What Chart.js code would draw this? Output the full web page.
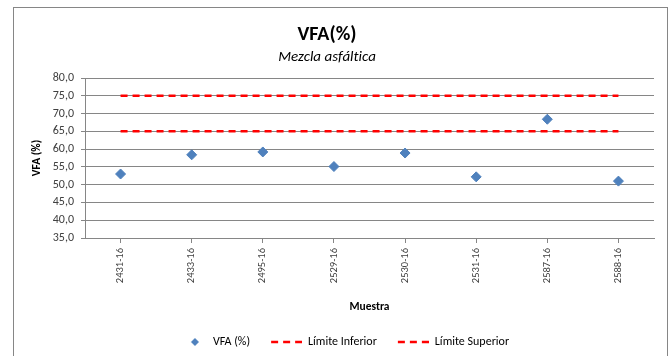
<!DOCTYPE html>
<html>
<head>
<meta charset="utf-8">
<script src="https://cdn.jsdelivr.net/npm/chart.js@4/dist/chart.umd.min.js"></script>
<style>
  html, body { margin: 0; padding: 0; background: #ffffff; }
  #wrap { position: relative; width: 670px; height: 356px; }
</style>
</head>
<body>
<div id="wrap"><canvas id="c" width="670" height="356"></canvas></div>
<script>
// Samples and measured VFA values
const muestras = ['2431-16', '2433-16', '2495-16', '2529-16', '2530-16', '2531-16', '2587-16', '2588-16'];
const vfa = [53.0, 58.4, 59.2, 55.1, 58.9, 52.2, 68.4, 51.0];
// Specification limits
const limiteInferior = [65, 65, 65, 65, 65, 65, 65, 65];
const limiteSuperior = [75, 75, 75, 75, 75, 75, 75, 75];
// Y axis range
const yMin = 35, yMax = 80, yStep = 5;

const FONT = "Carlito, Lato, 'Liberation Sans', sans-serif";
const BLUE = '#4F81BD';
const RED = '#FF0000';
const GRID = '#868686';
const TEXT = '#404040';

// Legend swatches
function diamondSwatch() {
  const c = document.createElement('canvas');
  c.width = 32; c.height = 12;
  const g = c.getContext('2d');
  g.fillStyle = BLUE;
  g.beginPath();
  g.moveTo(20, 2); g.lineTo(24, 6); g.lineTo(20, 10); g.lineTo(16, 6);
  g.closePath(); g.fill();
  return c;
}
function dashSwatch() {
  const c = document.createElement('canvas');
  c.width = 32; c.height = 12;
  const g = c.getContext('2d');
  g.strokeStyle = RED;
  g.lineWidth = 2.5;
  g.setLineDash([7, 5]);
  g.beginPath();
  g.moveTo(1, 6); g.lineTo(33, 6);
  g.stroke();
  return c;
}
const swatches = [diamondSwatch(), dashSwatch(), dashSwatch()];

const frame = {
  id: 'frame',
  beforeDraw(chart) {
    const ctx = chart.ctx;
    ctx.save();
    ctx.fillStyle = '#ffffff';
    ctx.fillRect(0, 0, chart.width, chart.height);
    ctx.strokeStyle = GRID;
    ctx.lineWidth = 1;
    ctx.strokeRect(13.5, 7.5, 654, 400);
    ctx.restore();
  },
  afterLayout(chart) {
    if (chart.legend) {
      chart.legend.left += 15;
      chart.legend.right += 15;
    }
  }
};

new Chart(document.getElementById('c'), {
  type: 'line',
  data: {
    labels: muestras,
    datasets: [
      {
        label: 'VFA (%)',
        data: vfa,
        showLine: false,
        pointStyle: 'rectRot',
        pointRadius: 5,
        pointHoverRadius: 5,
        backgroundColor: BLUE,
        borderColor: BLUE,
        borderWidth: 1,
        order: 0
      },
      {
        label: 'Límite Inferior',
        data: limiteInferior,
        borderColor: RED,
        backgroundColor: RED,
        borderWidth: 2.5,
        borderDash: [7, 5],
        pointRadius: 0,
        fill: false,
        order: 1
      },
      {
        label: 'Límite Superior',
        data: limiteSuperior,
        borderColor: RED,
        backgroundColor: RED,
        borderWidth: 2.5,
        borderDash: [7, 5],
        pointRadius: 0,
        fill: false,
        order: 2
      }
    ]
  },
  options: {
    responsive: false,
    devicePixelRatio: 1,
    animation: false,
    layout: { padding: { left: 0, right: 16, top: 0, bottom: -2 } },
    plugins: {
      title: {
        display: true,
        text: 'VFA(%)',
        color: '#000000',
        font: { family: FONT, size: 20, weight: 'bold' },
        padding: { top: 23, bottom: 1 }
      },
      subtitle: {
        display: true,
        // ZWNJ keeps "t" and "i" as separate glyphs
        text: 'Mezcla asfált\u200Cica',
        color: '#000000',
        font: { family: FONT, size: 15, style: 'italic' },
        padding: { top: 0, bottom: 12 }
      },
      legend: {
        position: 'bottom',
        labels: {
          usePointStyle: true,
          pointStyleWidth: 32,
          padding: 20,
          color: '#000000',
          font: { family: FONT, size: 12 },
          generateLabels(chart) {
            return chart.data.datasets.map((ds, i) => ({
              text: ds.label,
              pointStyle: swatches[i],
              fillStyle: ds.backgroundColor,
              strokeStyle: ds.borderColor,
              lineWidth: 0,
              hidden: false,
              datasetIndex: i,
              fontColor: '#000000'
            }));
          }
        }
      },
      tooltip: { enabled: false }
    },
    scales: {
      x: {
        offset: true,
        afterFit(scale) { scale.height = 78; },
        grid: {
          display: true,
          drawOnChartArea: false,
          drawTicks: true,
          tickLength: 5,
          color: GRID
        },
        border: { display: true, color: GRID },
        ticks: {
          autoSkip: false,
          minRotation: 90,
          maxRotation: 90,
          padding: 5,
          color: TEXT,
          font: { family: FONT, size: 10.5 }
        },
        title: {
          display: true,
          text: 'Muestra',
          color: '#000000',
          font: { family: FONT, size: 11.5, weight: 'bold' },
          padding: { top: 4, bottom: 2 }
        }
      },
      y: {
        min: yMin,
        max: yMax,
        afterFit(scale) { scale.width = 85; },
        grid: {
          color: GRID,
          lineWidth: 1,
          drawTicks: true,
          tickLength: 4
        },
        border: { display: true, color: GRID },
        ticks: {
          stepSize: yStep,
          padding: 7,
          color: TEXT,
          font: { family: FONT, size: 12 },
          callback: (v) => Number(v).toFixed(1).replace('.', ',')
        },
        title: {
          display: true,
          text: 'VFA (%)',
          color: '#000000',
          font: { family: FONT, size: 11.5, weight: 'bold' },
          padding: { top: 30, bottom: 4 }
        }
      }
    }
  },
  plugins: [frame]
});
</script>
</body>
</html>
